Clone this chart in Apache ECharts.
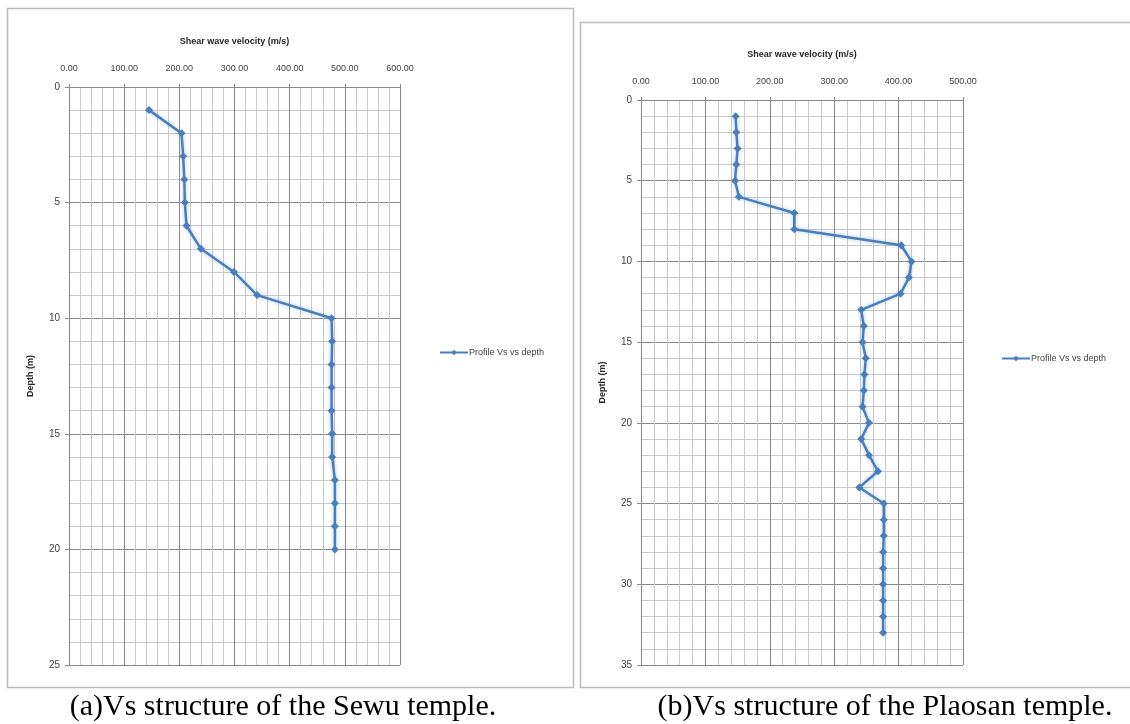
<!DOCTYPE html>
<html>
<head>
<meta charset="utf-8">
<script src="https://cdn.jsdelivr.net/npm/echarts@6/dist/echarts.min.js"></script>
<style>
html,body{margin:0;padding:0;background:#ffffff;}
#c{width:1130px;height:724px;}
</style>
</head>
<body>
<div id="c"></div>
<script>
// ---- Data ----
const sewuDepth = [1,2,3,4,5,6,7,8,9,10,11,12,13,14,15,16,17,18,19,20];
const sewuVs = [145,204,207,209,210,213,239,299,341,476,477,476,476,476,477,477,482,482,482,482];

const plaosanDepth = [1,2,3,4,5,6,7,8,9,10,11,12,13,14,15,16,17,18,19,20,21,22,23,24,25,26,27,28,29,30,31,32,33];
const plaosanVs = [147,148,150,148,146,152,238,238,404,420,416,403,342,346,344,349,347,346,344,354,342,354,368,339,377,377,377,376,376,376,376,376,376];

const seriesName = 'Profile Vs vs depth';
const xTitle = 'Shear wave velocity (m/s)';
const yTitle = 'Depth (m)';
const captionA = '(a)Vs structure of the Sewu temple.';
const captionB = '(b)Vs structure of the Plaosan temple.';

// ---- Styling helpers ----
const LINE_BLUE = '#4a7ebb';
const MAJOR = '#8a8a8a';
const MINOR = '#c9c9c9';
const LABEL = '#404040';
const FONT = '"Liberation Sans", Arial, sans-serif';
const SERIF = '"Liberation Serif", "Times New Roman", serif';

function xAxisCfg(gridIndex, max) {
  return {
    type: 'value', gridIndex: gridIndex, position: 'top',
    min: 0, max: max, interval: 100,
    name: xTitle, nameLocation: 'middle', nameGap: 41,
    nameTextStyle: {fontFamily: FONT, fontSize: 9, fontWeight: 'bold', color: '#262626'},
    axisLine: {show: true, lineStyle: {color: MAJOR, width: 1}},
    axisTick: {show: true, length: 3, lineStyle: {color: MAJOR}},
    axisLabel: {fontFamily: FONT, fontSize: 9, color: LABEL, margin: 14,
      formatter: v => v.toFixed(2)},
    splitLine: {show: true, lineStyle: {color: MAJOR, width: 1}},
    minorTick: {show: false, splitNumber: 5},
    minorSplitLine: {show: true, lineStyle: {color: MINOR, width: 1}}
  };
}
function yAxisCfg(gridIndex, max) {
  return {
    type: 'value', gridIndex: gridIndex, inverse: true,
    min: 0, max: max, interval: 5,
    name: yTitle, nameLocation: 'middle', nameGap: 34,
    nameTextStyle: {fontFamily: FONT, fontSize: 9, fontWeight: 'bold', color: '#262626'},
    axisLine: {show: true, lineStyle: {color: MAJOR, width: 1}},
    axisTick: {show: true, length: 4, lineStyle: {color: MAJOR}},
    axisLabel: {fontFamily: FONT, fontSize: 10, color: LABEL, margin: 9},
    splitLine: {show: true, lineStyle: {color: MAJOR, width: 1}},
    minorTick: {show: false, splitNumber: 5},
    minorSplitLine: {show: true, lineStyle: {color: MINOR, width: 1}}
  };
}
function lineSeries(idx, vs, depth) {
  return {
    name: seriesName, type: 'line',
    xAxisIndex: idx, yAxisIndex: idx,
    data: vs.map((v, i) => [v, depth[i]]),
    symbol: 'diamond', symbolSize: 8,
    lineStyle: {color: LINE_BLUE, width: 2.5, shadowColor: 'rgba(120,170,230,0.6)', shadowBlur: 4},
    itemStyle: {color: LINE_BLUE},
    animation: false
  };
}
function legendCfg(left, top) {
  return {
    data: [seriesName], left: left, top: top, orient: 'vertical',
    itemWidth: 28, itemHeight: 7, itemGap: 4, selectedMode: false,
    textStyle: {fontFamily: FONT, fontSize: 9, color: LABEL, padding: [0,0,0,-4]}
  };
}

const chart = echarts.init(document.getElementById('c'), null, {renderer: 'canvas'});
chart.setOption({
  backgroundColor: '#ffffff',
  animation: false,
  grid: [
    {left: 69, top: 87, width: 331, height: 578},
    {left: 641, top: 100, width: 322, height: 565}
  ],
  xAxis: [xAxisCfg(0, 600), xAxisCfg(1, 500)],
  yAxis: [yAxisCfg(0, 25), yAxisCfg(1, 35)],
  legend: [legendCfg(434, 343), legendCfg(996, 349)],
  series: [lineSeries(0, sewuVs, sewuDepth), lineSeries(1, plaosanVs, plaosanDepth)],
  graphic: [
    {type: 'rect', shape: {x: 7.5, y: 8.5, width: 566, height: 679},
      style: {fill: 'none', stroke: '#bdbdbd', lineWidth: 1.5}, silent: true, z: -1},
    {type: 'rect', shape: {x: 580.5, y: 22.5, width: 560, height: 665},
      style: {fill: 'none', stroke: '#bdbdbd', lineWidth: 1.5}, silent: true, z: -1},
    {type: 'text', silent: true,
      style: {text: captionA, x: 283, y: 707, font: '30px ' + SERIF,
        fill: '#000', align: 'center', verticalAlign: 'middle'}},
    {type: 'text', silent: true,
      style: {text: captionB, x: 885, y: 707, font: '30px ' + SERIF,
        fill: '#000', align: 'center', verticalAlign: 'middle'}}
  ]
});
</script>
</body>
</html>
